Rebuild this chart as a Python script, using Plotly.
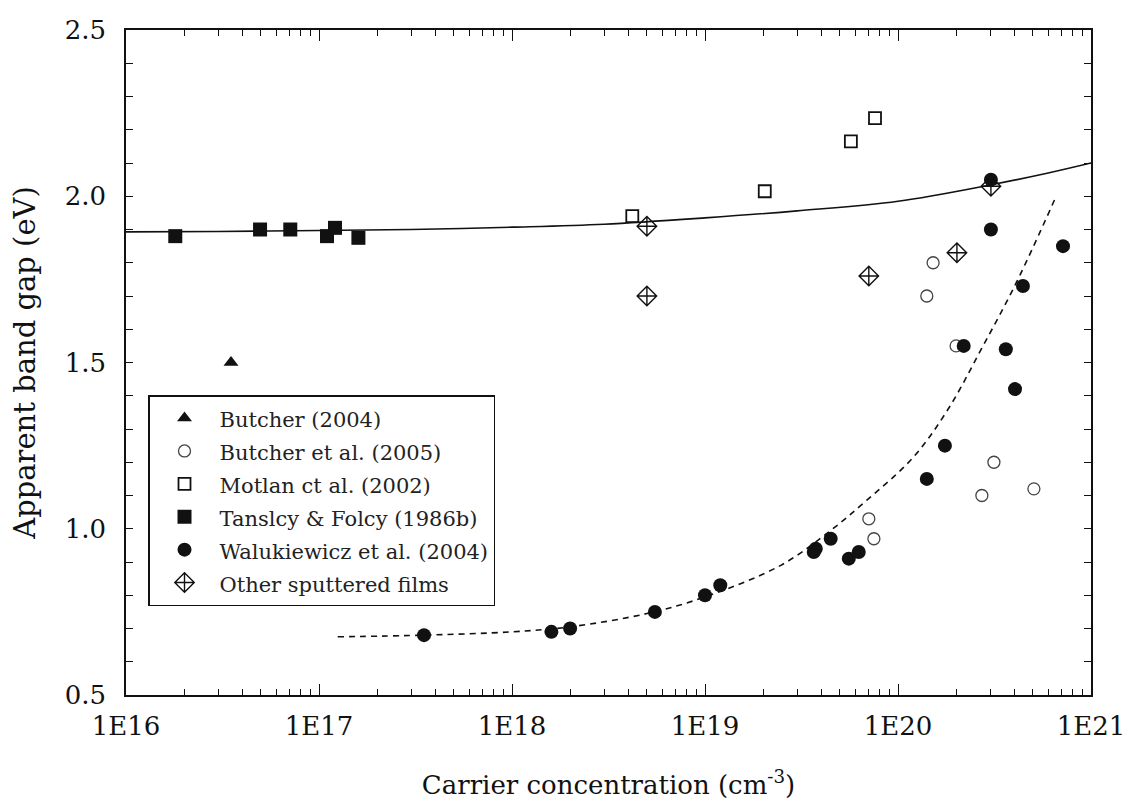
import plotly.graph_objects as go

# Carrier concentration (cm^-3) and apparent band gap (eV) for each data set
butcher04_n = [3.5e16]
butcher04_eg = [1.50]

butcher05_n = [1.41e20, 1.52e20, 2.0e20, 2.72e20, 3.14e20, 5.06e20, 7.06e19, 7.5e19]
butcher05_eg = [1.70, 1.80, 1.55, 1.10, 1.20, 1.12, 1.03, 0.97]

motlan_n = [4.2e18, 2.04e19, 5.7e19, 7.6e19]
motlan_eg = [1.94, 2.015, 2.165, 2.235]

tansley_n = [1.8e16, 4.95e16, 7.1e16, 1.1e17, 1.21e17, 1.6e17]
tansley_eg = [1.88, 1.90, 1.90, 1.88, 1.905, 1.875]

walu_n = [3.5e17, 1.6e18, 2.0e18, 5.5e18, 1.0e19, 1.2e19, 3.66e19, 3.75e19,
          4.48e19, 5.56e19, 6.26e19, 1.41e20, 1.75e20, 2.19e20, 3.03e20,
          3.03e20, 3.62e20, 4.04e20, 4.44e20, 7.16e20]
walu_eg = [0.68, 0.69, 0.70, 0.75, 0.80, 0.83, 0.93, 0.94,
           0.97, 0.91, 0.93, 1.15, 1.25, 1.55, 2.05,
           1.90, 1.54, 1.42, 1.73, 1.85]

other_n = [5.0e18, 5.0e18, 7.06e19, 2.02e20, 3.03e20]
other_eg = [1.91, 1.70, 1.76, 1.83, 2.03]

# Solid guide curve (upper)
upper_n = [1e16, 3e16, 1e17, 3e17, 1e18, 3e18, 1e19, 3e19, 1e20, 3e20, 6e20, 1e21]
upper_eg = [1.893, 1.894, 1.897, 1.900, 1.907, 1.916, 1.935, 1.956, 1.985, 2.034, 2.070, 2.100]

# Dashed guide curve (lower)
lower_n = [1.25e17, 3.5e17, 1e18, 2e18, 5e18, 1e19, 2.47e19, 4.48e19, 6.9e19,
           1.2e20, 1.82e20, 2.7e20, 4.1e20, 6.6e20]
lower_eg = [0.675, 0.68, 0.69, 0.705, 0.745, 0.795, 0.89, 0.995, 1.086,
            1.215, 1.36, 1.54, 1.74, 2.00]

x_tickvals = [1e16, 1e17, 1e18, 1e19, 1e20, 1e21]
x_ticktext = ["1E16", "1E17", "1E18", "1E19", "1E20", "1E21"]
y_tickvals = [0.5, 1.0, 1.5, 2.0, 2.5]
y_ticktext = ["0.5", "1.0", "1.5", "2.0", "2.5"]

FONT = "DejaVu Serif"
INK = "#111111"


def entry(label):
    """Legend label set slightly smaller than the legend row height."""
    return f'<span style="font-size:21px">{label}</span>'


fig = go.Figure()

fig.add_trace(go.Scatter(x=upper_n, y=upper_eg, mode="lines", line_shape="spline",
                         line=dict(color=INK, width=1.6), showlegend=False,
                         hoverinfo="skip"))
fig.add_trace(go.Scatter(x=lower_n, y=lower_eg, mode="lines",
                         line=dict(color=INK, width=1.6, dash="6px,5px",
                                   shape="spline", smoothing=1.0),
                         showlegend=False, hoverinfo="skip"))

fig.add_trace(go.Scatter(x=butcher04_n, y=butcher04_eg, mode="markers",
                         name=entry("Butcher (2004)"),
                         marker=dict(symbol="triangle-up", size=13, color=INK)))
fig.add_trace(go.Scatter(x=butcher05_n, y=butcher05_eg, mode="markers",
                         name=entry("Butcher et al. (2005)"),
                         marker=dict(symbol="circle-open", size=12, color="#444444",
                                     line=dict(width=1.3))))
fig.add_trace(go.Scatter(x=motlan_n, y=motlan_eg, mode="markers",
                         name=entry("Motlan ct al. (2002)"),
                         marker=dict(symbol="square-open", size=12, color=INK,
                                     line=dict(width=1.8))))
fig.add_trace(go.Scatter(x=tansley_n, y=tansley_eg, mode="markers",
                         name=entry("Tanslcy &amp; Folcy (1986b)"),
                         marker=dict(symbol="square", size=14, color=INK)))
fig.add_trace(go.Scatter(x=walu_n, y=walu_eg, mode="markers",
                         name=entry("Walukiewicz et al. (2004)"),
                         marker=dict(symbol="circle", size=14, color=INK)))
fig.add_trace(go.Scatter(x=other_n, y=other_eg, mode="markers",
                         name=entry("Other sputtered films"),
                         marker=dict(symbol="diamond-cross-open", size=15, color=INK,
                                     line=dict(width=1.4))))

axis_common = dict(
    showline=True, linecolor=INK, linewidth=1.6, mirror="ticks",
    ticks="inside", tickcolor=INK, tickwidth=1.4, showgrid=False, zeroline=False,
    tickfont=dict(family=FONT, size=26, color=INK), automargin=False,
)

fig.update_xaxes(
    type="log", range=[16, 21], tickvals=x_tickvals, ticktext=x_ticktext,
    ticklen=11, ticklabelstandoff=7,
    minor=dict(ticks="inside", ticklen=6, tickcolor=INK, tickwidth=1.4,
               dtick="D1", showgrid=False),
    title=dict(text="Carrier concentration (cm<sup>-3</sup>)",
               font=dict(family=FONT, size=26, color=INK), standoff=36),
    **axis_common,
)
fig.update_yaxes(
    range=[0.5, 2.5], tickvals=y_tickvals, ticktext=y_ticktext, ticklen=7,
    ticklabelstandoff=13,
    minor=dict(ticks="inside", ticklen=7, tickcolor=INK, tickwidth=1.4,
               dtick=0.1, showgrid=False),
    title=dict(text="Apparent band gap (eV)",
               font=dict(family=FONT, size=29, color=INK), standoff=20),
    **axis_common,
)

fig.update_layout(
    width=1131, height=808,
    margin=dict(l=126, r=40, t=30, b=113),
    paper_bgcolor="white", plot_bgcolor="white",
    font=dict(family=FONT, color=INK),
    legend=dict(
        x=0.0228, y=0.451, xanchor="left", yanchor="top",
        bgcolor="white", bordercolor=INK, borderwidth=1.5,
        font=dict(family=FONT, size=23, color="#222222"),
        itemwidth=60, tracegroupgap=0,
    ),
)

fig.write_html("out.html")
